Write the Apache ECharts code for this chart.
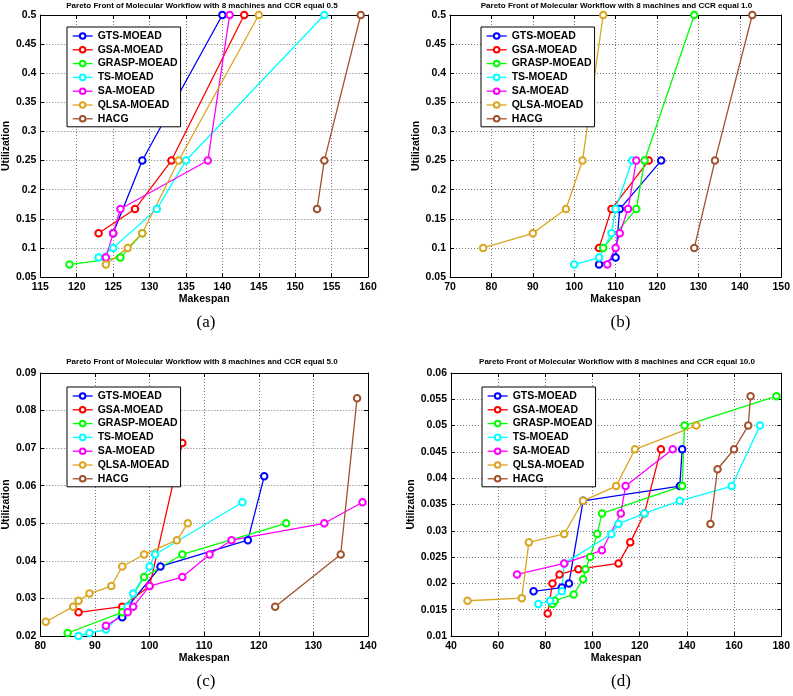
<!DOCTYPE html>
<html>
<head>
    <meta charset="UTF-8">
    <script src="https://cdn.jsdelivr.net/npm/echarts@6/dist/echarts.min.js"></script>
    <title>Pareto Front of Molecular Workflow</title>
    <style>
        html, body { margin: 0; padding: 0; background: #fff; }
        #chart { width: 793px; height: 696px; }
    </style>
</head>
<body>
<div id="chart"></div>
<script>
    // series names, same in all four panels
    const names = ['GTS-MOEAD', 'GSA-MOEAD', 'GRASP-MOEAD', 'TS-MOEAD', 'SA-MOEAD', 'QLSA-MOEAD', 'HACG'];

    const titles = [
        'Pareto Front of Molecular Workflow with 8 machines and CCR equal 0.5',
        'Pareto Front of Molecular Workflow with 8 machines and CCR equal 1.0',
        'Pareto Front of Molecular Workflow with 8 machines and CCR equal 5.0',
        'Pareto Front of Molecular Workflow with 8 machines and CCR equal 10.0'
    ];
    const captions = ['(a)', '(b)', '(c)', '(d)'];

    // axis ranges (makespan / utilization)
    const xMin = [115, 70, 80, 40], xMax = [160, 150, 140, 180], xStep = [5, 10, 10, 20];
    const yMin = [0.05, 0.05, 0.02, 0.01], yMax = [0.5, 0.5, 0.09, 0.06], yStep = [0.05, 0.05, 0.01, 0.005];

    // [makespan, utilization] - CCR 0.5
    const gtsA = [[125, 0.125], [129, 0.25], [140, 0.5]];
    const gsaA = [[123, 0.125], [128, 0.1667], [133, 0.25], [143, 0.5]];
    const graspA = [[119, 0.0714], [126, 0.0833], [129, 0.125]];
    const tsA = [[123, 0.0833], [125, 0.1], [131, 0.1667], [135, 0.25], [154, 0.5]];
    const saA = [[124, 0.0833], [125, 0.125], [126, 0.1667], [138, 0.25], [141, 0.5]];
    const qlsaA = [[124, 0.0714], [127, 0.1], [129, 0.125], [134, 0.25], [145, 0.5]];
    const hacgA = [[153, 0.1667], [154, 0.25], [159, 0.5]];

    // CCR 1.0
    const gtsB = [[106, 0.0714], [110, 0.0833], [111, 0.1667], [121, 0.25]];
    const gsaB = [[106, 0.1], [109, 0.1667], [118, 0.25]];
    const graspB = [[107, 0.1], [115, 0.1667], [117, 0.25], [129, 0.5]];
    const tsB = [[100, 0.0714], [106, 0.0833], [109, 0.125], [110, 0.1667], [114, 0.25]];
    const saB = [[108, 0.0714], [110, 0.1], [111, 0.125], [113, 0.1667], [115, 0.25]];
    const qlsaB = [[78, 0.1], [90, 0.125], [98, 0.1667], [102, 0.25], [107, 0.5]];
    const hacgB = [[129, 0.1], [134, 0.25], [143, 0.5]];

    // CCR 5.0
    const gtsC = [[95, 0.025], [96, 0.0278], [102, 0.0385], [118, 0.0455], [121, 0.0625]];
    const gsaC = [[87, 0.0263], [95, 0.0278], [100, 0.0333], [106, 0.0714]];
    const graspC = [[85, 0.0208], [95, 0.0263], [99, 0.0357], [106, 0.0417], [125, 0.05]];
    const tsC = [[87, 0.02], [89, 0.0208], [92, 0.0217], [96, 0.0278], [97, 0.0313], [100, 0.0385], [101, 0.0417], [117, 0.0556]];
    const saC = [[92, 0.0227], [96, 0.0263], [97, 0.0278], [100, 0.0333], [106, 0.0357], [111, 0.0417], [115, 0.0455], [132, 0.05], [139, 0.0556]];
    const qlsaC = [[81, 0.0238], [86, 0.0278], [87, 0.0294], [89, 0.0313], [93, 0.0333], [95, 0.0385], [99, 0.0417], [105, 0.0455], [107, 0.05]];
    const hacgC = [[123, 0.0278], [135, 0.0417], [138, 0.0833]];

    // CCR 10.0
    const gtsD = [[75, 0.0185], [87, 0.0192], [90, 0.02], [96, 0.0357], [137, 0.0385], [138, 0.0455]];
    const gsaD = [[81, 0.0143], [83, 0.02], [86, 0.0217], [94, 0.0227], [111, 0.0238], [116, 0.0278], [122, 0.0333], [129, 0.0455]];
    const graspD = [[83, 0.0161], [84, 0.0167], [92, 0.0179], [96, 0.0208], [97, 0.0227], [99, 0.025], [102, 0.0294], [104, 0.0333], [138, 0.0385], [139, 0.05], [178, 0.0556]];
    const tsD = [[77, 0.0161], [82, 0.0167], [87, 0.0185], [88, 0.0238], [108, 0.0294], [111, 0.0313], [122, 0.0333], [137, 0.0357], [159, 0.0385], [171, 0.05]];
    const saD = [[68, 0.0217], [88, 0.0238], [104, 0.0263], [112, 0.0333], [114, 0.0385], [134, 0.0455]];
    const qlsaD = [[47, 0.0167], [70, 0.0172], [73, 0.0278], [88, 0.0294], [96, 0.0357], [110, 0.0385], [118, 0.0455], [144, 0.05]];
    const hacgD = [[150, 0.0313], [153, 0.0417], [160, 0.0455], [166, 0.05], [167, 0.0556]];

    const panels = [
        [gtsA, gsaA, graspA, tsA, saA, qlsaA, hacgA],
        [gtsB, gsaB, graspB, tsB, saB, qlsaB, hacgB],
        [gtsC, gsaC, graspC, tsC, saC, qlsaC, hacgC],
        [gtsD, gsaD, graspD, tsD, saD, qlsaD, hacgD]
    ];

    // styles / layout
    const colors = ['#0000ff', '#ff0000', '#00ff00', '#00ffff', '#ff00ff', '#daa520', '#a0522d'];
    const font = '"Liberation Sans", Arial, sans-serif';
    const grids = [
        { left: 36, top: 15, width: 332, height: 262 },
        { left: 450, top: 15, width: 333, height: 262 },
        { left: 36, top: 373, width: 332, height: 263 },
        { left: 451, top: 373, width: 332, height: 263 }
    ];
    const legendPos = [[67, 27], [481, 27], [67, 387], [482, 387]];
    const titleTop = [2, 2, 358, 358];
    const captionTop = [314, 314, 673, 673];
    const yNameGap = [28, 26, 27, 33];

    var chart = echarts.init(document.getElementById('chart'), null, { renderer: 'canvas' });

    var xAxis = [], yAxis = [], series = [], title = [], legend = [];

    grids.forEach(function (g, i) {
        var cx = g.left + g.width / 2;
        title.push({
            text: titles[i], left: cx, top: titleTop[i], textAlign: 'center', padding: 0,
            textStyle: { fontSize: 8, fontWeight: 'bold', fontFamily: font, color: '#000' }
        });
        title.push({
            text: captions[i], left: cx + 4, top: captionTop[i], textAlign: 'center', padding: 0,
            textStyle: { fontSize: 17, fontWeight: 'normal', fontFamily: '"Liberation Serif", "DejaVu Serif", serif', color: '#000' }
        });

        var tick = { show: true, inside: true, length: 4, lineStyle: { color: '#000' } };
        // bottom / left axes with labels
        xAxis.push({
            type: 'value', gridIndex: i, min: xMin[i], max: xMax[i], interval: xStep[i],
            name: 'Makespan', nameLocation: 'middle', nameGap: 16,
            nameTextStyle: { fontSize: 10.5, fontWeight: 'bold', fontFamily: font, color: '#000' },
            axisLine: { show: true, lineStyle: { color: '#000' } },
            axisTick: tick,
            axisLabel: { fontSize: 10.5, fontWeight: 'bold', fontFamily: font, color: '#000', margin: 5 },
            splitLine: { show: true, lineStyle: { type: [1, 2], color: '#777' } }
        });
        yAxis.push({
            type: 'value', gridIndex: i, min: yMin[i], max: yMax[i], interval: yStep[i],
            name: 'Utilization', nameLocation: 'middle', nameGap: yNameGap[i],
            nameTextStyle: { fontSize: 10.5, fontWeight: 'bold', fontFamily: font, color: '#000' },
            axisLine: { show: true, lineStyle: { color: '#000' } },
            axisTick: tick,
            axisLabel: { fontSize: 10.5, fontWeight: 'bold', fontFamily: font, color: '#000', margin: 4 },
            splitLine: { show: true, lineStyle: { type: [1, 2], color: '#777' } }
        });
    });
    // top / right axes: ticks only (box look)
    grids.forEach(function (g, i) {
        var tick = { show: true, inside: true, length: 4, lineStyle: { color: '#000' } };
        xAxis.push({
            type: 'value', gridIndex: i, position: 'top', min: xMin[i], max: xMax[i], interval: xStep[i],
            axisLine: { show: true, lineStyle: { color: '#000' } }, axisTick: tick,
            axisLabel: { show: false }, splitLine: { show: false }
        });
        yAxis.push({
            type: 'value', gridIndex: i, position: 'right', min: yMin[i], max: yMax[i], interval: yStep[i],
            axisLine: { show: true, lineStyle: { color: '#000' } }, axisTick: tick,
            axisLabel: { show: false }, splitLine: { show: false }
        });

        legend.push({
            data: names, orient: 'vertical', left: legendPos[i][0], top: legendPos[i][1],
            itemWidth: 20, itemHeight: 7, itemGap: 1.8, padding: [3, 3, 2, 5],
            borderColor: '#000', borderWidth: 1, backgroundColor: '#fff',
            selectedMode: false,
            lineStyle: { width: 1.3 },
            itemStyle: { borderWidth: 1 },
            textStyle: { fontSize: 10.5, fontWeight: 'bold', fontFamily: font, color: '#000', lineHeight: 12 }
        });

        panels[i].forEach(function (d, k) {
            series.push({
                name: names[k], type: 'line', xAxisIndex: i, yAxisIndex: i, data: d,
                symbol: 'emptyCircle', symbolSize: 6.5,
                lineStyle: { color: colors[k], width: 1.3 },
                itemStyle: { color: colors[k], borderColor: colors[k], borderWidth: 1 }
            });
        });
    });

    chart.setOption({
        animation: false,
        backgroundColor: '#fff',
        title: title,
        legend: legend,
        grid: grids,
        xAxis: xAxis,
        yAxis: yAxis,
        series: series
    });
</script>
</body>
</html>
